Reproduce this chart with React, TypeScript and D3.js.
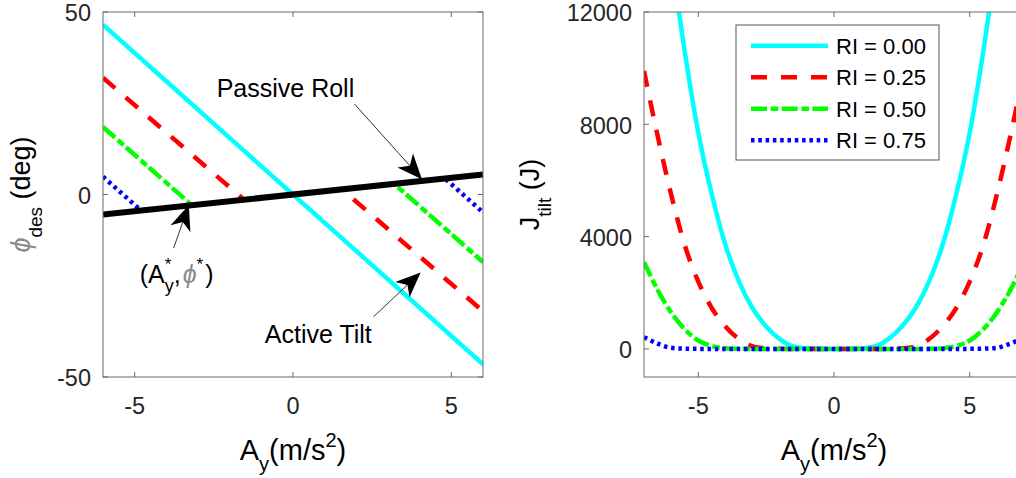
import React from 'react';
import * as d3 from 'd3';

// ---------- Left panel data: desired roll angle vs lateral acceleration ----------
const ayActive = [-6, 6];
const phiActive = [46.5, -46.5];
const ayPassive = [-6, 6];
const phiPassive = [-5.5, 5.5];
const ayRI025 = [-6, -1.55, 1.55, 6];
const phiRI025 = [32, -1.4, 1.4, -32];
const ayRI050 = [-6, -3.2, 3.2, 6];
const phiRI050 = [18.5, -2.9, 2.9, -18.5];
const ayRI075 = [-6, -4.8, 4.8, 6];
const phiRI075 = [4.9, -4.4, 4.4, -4.9];

// ---------- Right panel data: tilt energy vs lateral acceleration ----------
const ayGrid = [-7, -6.5, -6, -5.5, -5, -4.5, -4, -3.5, -3, -2.5, -2, -1.5, -1, -0.5, 0,
  0.5, 1, 1.5, 2, 2.5, 3, 3.5, 4, 4.5, 5, 5.5, 6, 6.5, 7];
const jRI000: (number | null)[] = [null, null, 14000, 10600, 7700, 5500, 3700, 2400, 1450, 800, 350, 90, 20, 2, 0,
  2, 20, 90, 350, 800, 1450, 2400, 3700, 5500, 7700, 10600, 14000, null, null];
const jRI025 = [9900, 7600, 5500, 3700, 2400, 1450, 800, 350, 90, 20, 2, 0, 0, 0, 0,
  0, 0, 0, 2, 20, 90, 350, 800, 1450, 2400, 3700, 5500, 7600, 9900];
const jRI050 = [3100, 2100, 1300, 700, 300, 100, 25, 5, 0, 0, 0, 0, 0, 0, 0,
  0, 0, 0, 0, 0, 0, 5, 25, 100, 300, 700, 1300, 2100, 3100];
const jRI075 = [420, 190, 40, 10, 2, 0, 0, 0, 0, 0, 0, 0, 0, 0, 0,
  0, 0, 0, 0, 0, 0, 0, 0, 0, 2, 10, 40, 190, 420];

const legendLabels = ['RI = 0.00', 'RI = 0.25', 'RI = 0.50', 'RI = 0.75'];
const xTicksLeft = [-5, 0, 5];
const yTicksLeft = [-50, 0, 50];
const xTicksRight = [-5, 0, 5];
const yTicksRight = [0, 4000, 8000, 12000];

const styles = [
  { color: '#00FFFF', dash: '' },
  { color: '#FF0000', dash: '16,14' },
  { color: '#00FF00', dash: '16,3.7,7.7,3.3' },
  { color: '#0000FF', dash: '3.5,3.8' },
];

const FONT = '"Liberation Sans", Arial, Helvetica, sans-serif';
const AXIS_COLOR = '#6a6a6a';
const TICK_TEXT = '#262626';
const PHI_COLOR = '#8a8a8a';
const LW = 4.5;

const leftX = d3.scaleLinear().domain([-6, 6]).range([103, 483]);
const leftY = d3.scaleLinear().domain([-50, 50]).range([377, 12]);
const rightX = d3.scaleLinear().domain([-7, 7]).range([644, 1024]);
const rightY = d3.scaleLinear().domain([-1000, 12000]).range([377, 12]);

type Scale = d3.ScaleLinear<number, number>;

function Axes({ x, y, xTicks, yTicks }: { x: Scale; y: Scale; xTicks: number[]; yTicks: number[] }) {
  const [x0, x1] = x.range();
  const [y0, y1] = y.range();
  const tl = 5;
  return (
    <g>
      {xTicks.map((t) => (
        <g key={'x' + t}>
          <line x1={x(t)} x2={x(t)} y1={y0} y2={y0 - tl} stroke={AXIS_COLOR} />
          <line x1={x(t)} x2={x(t)} y1={y1} y2={y1 + tl} stroke={AXIS_COLOR} />
          <text x={x(t)} y={y0 + 36.5} textAnchor="middle" fontSize={23.5} fill={TICK_TEXT} fontFamily={FONT}>
            {String(t)}
          </text>
        </g>
      ))}
      {yTicks.map((t) => (
        <g key={'y' + t}>
          <line x1={x0} x2={x0 + tl} y1={y(t)} y2={y(t)} stroke={AXIS_COLOR} />
          <line x1={x1} x2={x1 - tl} y1={y(t)} y2={y(t)} stroke={AXIS_COLOR} />
          <text x={x0 - 12} y={y(t)} dy="0.4em" textAnchor="end" fontSize={23.5} fill={TICK_TEXT} fontFamily={FONT}>
            {String(t)}
          </text>
        </g>
      ))}
      <rect x={x0} y={y1} width={x1 - x0} height={y0 - y1} fill="none" stroke={AXIS_COLOR} strokeWidth={1} />
    </g>
  );
}

function Arrow({ tail, tip }: { tail: [number, number]; tip: [number, number] }) {
  const dx = tip[0] - tail[0];
  const dy = tip[1] - tail[1];
  const len = Math.hypot(dx, dy);
  const ux = dx / len, uy = dy / len;
  const px = -uy, py = ux;
  const L = 25, hw = 10.5, notch = 0.72 * L;
  const c1: [number, number] = [tip[0] - ux * L + px * hw, tip[1] - uy * L + py * hw];
  const c2: [number, number] = [tip[0] - ux * L - px * hw, tip[1] - uy * L - py * hw];
  const n: [number, number] = [tip[0] - ux * notch, tip[1] - uy * notch];
  return (
    <g>
      <line x1={tail[0]} y1={tail[1]} x2={n[0]} y2={n[1]} stroke="#333" strokeWidth={1} />
      <polygon points={[tip, c1, n, c2].map((p) => p.join(',')).join(' ')} fill="#000" />
    </g>
  );
}

function XLabel({ cx }: { cx: number }) {
  return (
    <text x={cx} y={460} textAnchor="middle" fontSize={29} fill="#000">
      <tspan>A</tspan>
      <tspan fontSize={20} dy={10.5}>y</tspan>
      <tspan dy={-10.5}>(m/s</tspan>
      <tspan fontSize={20} dy={-13}>2</tspan>
      <tspan dy={13}>)</tspan>
    </text>
  );
}

export default function App() {
  const lineL = (xs: number[], ys: number[]) =>
    d3.line<number>().x((_, i) => leftX(xs[i])).y((d) => leftY(d))(ys) || '';
  const lineR = (ys: (number | null)[]) =>
    d3
      .line<number | null>()
      .defined((d) => d !== null)
      .x((_, i) => rightX(ayGrid[i]))
      .y((d) => rightY(d as number))
      .curve(d3.curveMonotoneX)(ys) || '';

  const leftSeries = [
    { xs: ayActive, ys: phiActive },
    { xs: ayRI025, ys: phiRI025 },
    { xs: ayRI050, ys: phiRI050 },
    { xs: ayRI075, ys: phiRI075 },
  ];
  const rightSeries = [jRI000, jRI025, jRI050, jRI075];

  const lx0 = leftX.range()[0], lx1 = leftX.range()[1];
  const ly1 = leftY.range()[1], ly0 = leftY.range()[0];
  const rx0 = rightX.range()[0], rx1 = rightX.range()[1];

  return (
    <svg width={1016} height={478} style={{ position: 'absolute', left: 0, top: 0, background: '#fff' }} fontFamily={FONT}>
      <defs>
        <clipPath id="clipL">
          <rect x={lx0} y={ly1} width={lx1 - lx0} height={ly0 - ly1} />
        </clipPath>
        <clipPath id="clipR">
          <rect x={rx0} y={ly1} width={rx1 - rx0} height={ly0 - ly1} />
        </clipPath>
      </defs>
      <rect x={0} y={0} width={1016} height={478} fill="#fff" />

      {/* ---------- Left panel ---------- */}
      <g clipPath="url(#clipL)">
        {leftSeries.map((s, i) => (
          <path key={i} d={lineL(s.xs, s.ys)} fill="none" stroke={styles[i].color} strokeWidth={LW}
            strokeDasharray={styles[i].dash || undefined} />
        ))}
        <path d={lineL(ayPassive, phiPassive)} fill="none" stroke="#000" strokeWidth={6} />
      </g>
      <Axes x={leftX} y={leftY} xTicks={xTicksLeft} yTicks={yTicksLeft} />

      {/* annotations */}
      <text x={leftX(-2.41)} y={leftY(26.6)} fontSize={25} fill="#000">Passive Roll</text>
      <Arrow tail={[leftX(1.94), leftY(24.8)]} tip={[leftX(4.07), leftY(4.2)]} />
      <text x={leftX(-0.89)} y={leftY(-40.6)} fontSize={25} fill="#000">Active Tilt</text>
      <Arrow tail={[leftX(2.54), leftY(-33.5)]} tip={[leftX(4.03), leftY(-21.4)]} />
      <text x={leftX(-4.84)} y={leftY(-24.2)} fontSize={25} fill="#000">
        <tspan>(A</tspan>
        <tspan fontSize={17} dy={-13}>*</tspan>
        <tspan fontSize={18} dx={-6.6} dy={22}>y</tspan>
        <tspan dy={-9}>,</tspan>
        <tspan fill={PHI_COLOR} fontStyle="italic" dx={2}>ϕ</tspan>
        <tspan fontSize={17} dy={-13}>*</tspan>
        <tspan dy={13} dx={2}>)</tspan>
      </text>
      <Arrow tail={[leftX(-3.77), leftY(-14.7)]} tip={[leftX(-3.29), leftY(-2.9)]} />

      {/* left axis labels */}
      <text transform={`translate(30, ${(ly0 + ly1) / 2}) rotate(-90)`} textAnchor="middle" fontSize={27} fill="#000">
        <tspan fill={PHI_COLOR} fontStyle="italic">ϕ</tspan>
        <tspan fontSize={19} dy={12}>des</tspan>
        <tspan dy={-12}> (deg)</tspan>
      </text>
      <XLabel cx={(lx0 + lx1) / 2} />

      {/* ---------- Right panel ---------- */}
      <g clipPath="url(#clipR)">
        {rightSeries.map((s, i) => (
          <path key={i} d={lineR(s)} fill="none" stroke={styles[i].color} strokeWidth={LW}
            strokeDasharray={styles[i].dash || undefined} />
        ))}
      </g>
      <Axes x={rightX} y={rightY} xTicks={xTicksRight} yTicks={yTicksRight} />

      <text transform={`translate(539, ${(ly0 + ly1) / 2}) rotate(-90)`} textAnchor="middle" fontSize={27} fill="#000">
        <tspan>J</tspan>
        <tspan fontSize={19} dy={12}>tilt</tspan>
        <tspan dy={-12}> (J)</tspan>
      </text>
      <XLabel cx={(rx0 + rx1) / 2} />

      {/* legend */}
      <g>
        <rect x={736} y={25} width={203} height={135} fill="#fff" stroke="#555" strokeWidth={1} />
        {legendLabels.map((lab, i) => {
          const yy = 45.7 + i * 31.5;
          return (
            <g key={lab}>
              <line x1={751} x2={828} y1={yy} y2={yy} stroke={styles[i].color} strokeWidth={LW}
                strokeDasharray={styles[i].dash || undefined} />
              <text x={836} y={yy} dy="0.36em" fontSize={22} fill="#000">{lab}</text>
            </g>
          );
        })}
      </g>
    </svg>
  );
}
